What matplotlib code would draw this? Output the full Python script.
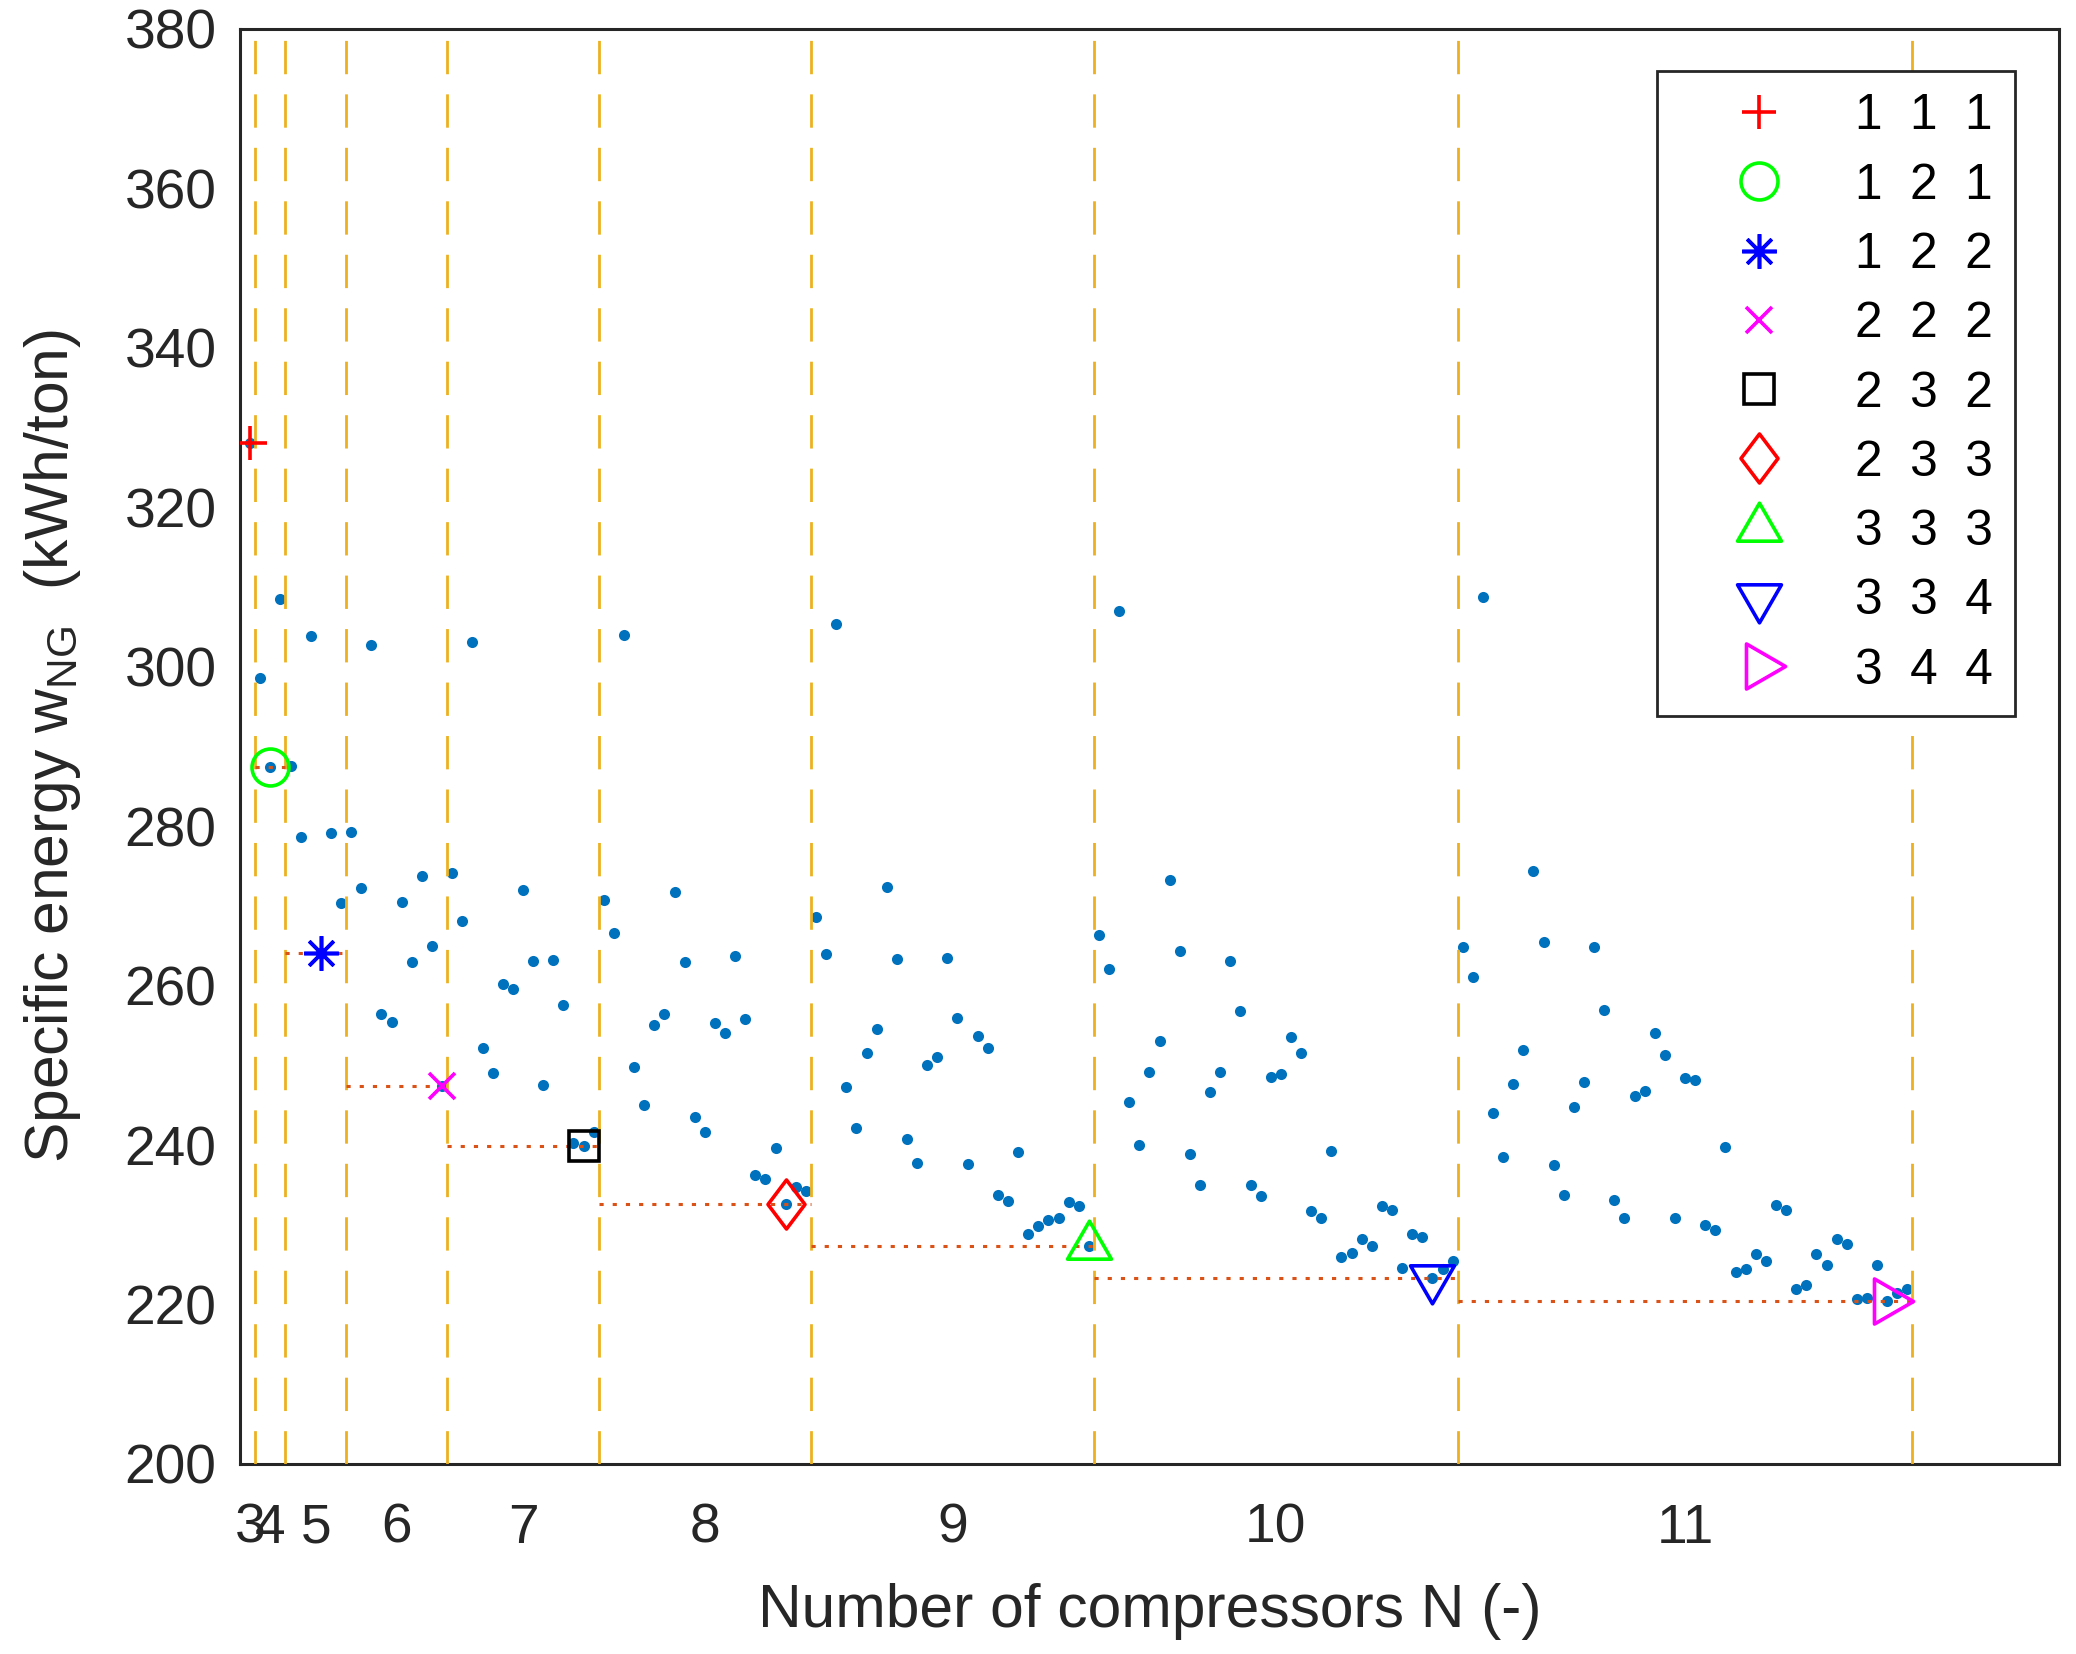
import numpy as np
import matplotlib
matplotlib.use('Agg')
import matplotlib.pyplot as plt
from matplotlib.path import Path
from matplotlib.lines import Line2D

plt.rcParams['font.family'] = ['Liberation Sans', 'DejaVu Sans']
plt.rcParams['mathtext.fontset'] = 'custom'
plt.rcParams['mathtext.rm'] = 'Liberation Sans'
plt.rcParams['mathtext.it'] = 'Liberation Sans:italic'
plt.rcParams['lines.scale_dashes'] = False

# specific energy of every stage configuration, grouped by number of compressors
n_comp = [3, 4, 5, 6, 7, 8, 9, 10, 11]
w_n3 = [328.1]
w_n4 = [298.6, 287.4, 308.5]
w_n5 = [287.5, 278.7, 303.8, 264.1, 279.1, 270.4]
w_n6 = [279.3, 272.2, 302.7, 256.4, 255.4, 270.5, 262.9, 273.7, 265.0, 247.4]
w_n7 = [274.1, 268.1, 303.1, 252.2, 249.1, 260.2, 259.6, 272.0, 263.1, 247.5,
        263.2, 257.6, 240.3, 239.9, 241.7]
w_n8 = [270.7, 266.6, 304.0, 249.8, 245.0, 255.0, 256.4, 271.8, 262.9, 243.5,
        241.7, 255.3, 254.0, 263.7, 255.8, 236.2, 235.7, 239.6, 232.6, 234.8,
        234.3]
w_n9 = [268.6, 264.0, 305.4, 247.3, 242.1, 251.6, 254.5, 272.4, 263.4, 240.8,
        237.7, 250.1, 251.0, 263.5, 255.9, 237.6, 253.7, 252.2, 233.7, 233.0,
        239.1, 228.8, 229.8, 230.6, 230.8, 232.8, 232.3, 227.3]
w_n10 = [266.4, 262.1, 307.0, 245.4, 240.0, 249.2, 253.0, 273.3, 264.3, 238.9,
         235.0, 246.6, 249.2, 263.1, 256.8, 235.0, 233.6, 248.6, 248.9, 253.6,
         251.6, 231.7, 230.9, 239.3, 226.0, 226.4, 228.2, 227.3, 232.4, 231.8,
         224.6, 228.8, 228.5, 223.3, 224.4, 225.5]
w_n11 = [264.8, 261.1, 308.7, 244.0, 238.5, 247.6, 251.9, 274.4, 265.5, 237.5,
         233.7, 244.8, 247.9, 264.8, 257.0, 233.1, 230.8, 246.1, 246.8, 254.0,
         251.3, 230.9, 248.4, 248.1, 230.0, 229.3, 239.8, 224.1, 224.4, 226.3,
         225.5, 232.5, 231.8, 221.9, 222.4, 226.3, 224.9, 228.2, 227.6, 220.7,
         220.8, 224.9, 220.5, 221.5, 221.9]
groups = [w_n3, w_n4, w_n5, w_n6, w_n7, w_n8, w_n9, w_n10, w_n11]

# best configuration for each N (legend)
best_cfg = ['1  1  1', '1  2  1', '1  2  2', '2  2  2', '2  3  2',
            '2  3  3', '3  3  3', '3  3  4', '3  4  4']

# marker shapes (MATLAB look)
diamond = Path([(0, 1), (0.755, 0), (0, -1), (-0.755, 0), (0, 1)],
               [Path.MOVETO, Path.LINETO, Path.LINETO, Path.LINETO, Path.CLOSEPOLY])
tri_up = Path([(0, 1), (-0.866, -0.5), (0.866, -0.5), (0, 1)],
              [Path.MOVETO, Path.LINETO, Path.LINETO, Path.CLOSEPOLY])
tri_down = Path([(0, -1), (-0.866, 0.5), (0.866, 0.5), (0, -1)],
                [Path.MOVETO, Path.LINETO, Path.LINETO, Path.CLOSEPOLY])
tri_right = Path([(1, 0), (-0.5, 0.866), (-0.5, -0.866), (1, 0)],
                 [Path.MOVETO, Path.LINETO, Path.LINETO, Path.CLOSEPOLY])
markers = ['+', 'o', (8, 2, 0), 'x', 's', diamond, tri_up, tri_down, tri_right]
msizes = [24.5, 26.6, 25, 18.7, 21.8, 35.3, 36.5, 36.5, 37.5]
mcolors = ['#FF0000', '#00FF00', '#0000FF', '#FF00FF', '#000000',
           '#FF0000', '#00FF00', '#0000FF', '#FF00FF']

fig = plt.figure(figsize=(20.76, 16.54), dpi=100)
ax = fig.add_axes([0.1156, 0.1149, 0.9918 - 0.1156, 0.9825 - 0.1149])

cum = np.cumsum([len(g) for g in groups])
starts = np.concatenate([[0], cum[:-1]])

for g, s0 in zip(groups, starts):
    x = np.arange(s0 + 1, s0 + 1 + len(g))
    ax.plot(x, g, 'o', ms=8, mfc='#0072BD', mec='none', zorder=2)

for b in cum:
    ax.axvline(b + 0.5, color='#EDB120', lw=2.0, dashes=(24, 14.5), zorder=3)

handles = []
for k, (g, s0, c) in enumerate(zip(groups, starts, cum)):
    i = int(np.argmin(g))
    ax.plot([s0 + 0.5, c + 0.5], [g[i], g[i]], color='#D95319', lw=2.2,
            dashes=(3, 6.5), zorder=4)
    ax.plot(s0 + 1 + i, g[i], linestyle='none', marker=markers[k], ms=msizes[k],
            mec=mcolors[k], mfc='none', mew=2.6, zorder=5)
    handles.append(Line2D([], [], linestyle='none', marker=markers[k], ms=msizes[k],
                          mec=mcolors[k], mfc='none', mew=2.6))

ax.set_xlim(0, 180)
ax.set_ylim(200, 380)
ax.set_yticks(np.arange(200, 381, 20))
ax.set_xticks([(s0 + 1 + c) / 2 for s0, c in zip(starts, cum)])
ax.set_xticklabels([str(n) for n in n_comp])
ax.tick_params(axis='y', length=0, pad=17, labelsize=39.7, labelcolor='#262626')
ax.tick_params(axis='x', length=0, pad=28, labelsize=39.7, labelcolor='#262626')
for sp in ax.spines.values():
    sp.set_linewidth(2.2)
    sp.set_color('#262626')

ax.set_xlabel('Number of compressors N (-)', fontsize=43.6, color='#262626', labelpad=20)
ax.set_ylabel('Specific energy w$_{\\mathrm{NG}}$  (kWh/ton)', fontsize=43.6,
              color='#262626', labelpad=30)

leg = ax.legend(handles, best_cfg, loc='upper right', bbox_to_anchor=(0.9758, 0.9707),
                borderaxespad=0, fontsize=35.7, handlelength=3.19, handletextpad=0.34,
                borderpad=0.45, labelspacing=0.47, fancybox=False, framealpha=1)
leg.get_frame().set_edgecolor('#262626')
leg.get_frame().set_linewidth(2.0)

fig.savefig('out.png', dpi=100)
